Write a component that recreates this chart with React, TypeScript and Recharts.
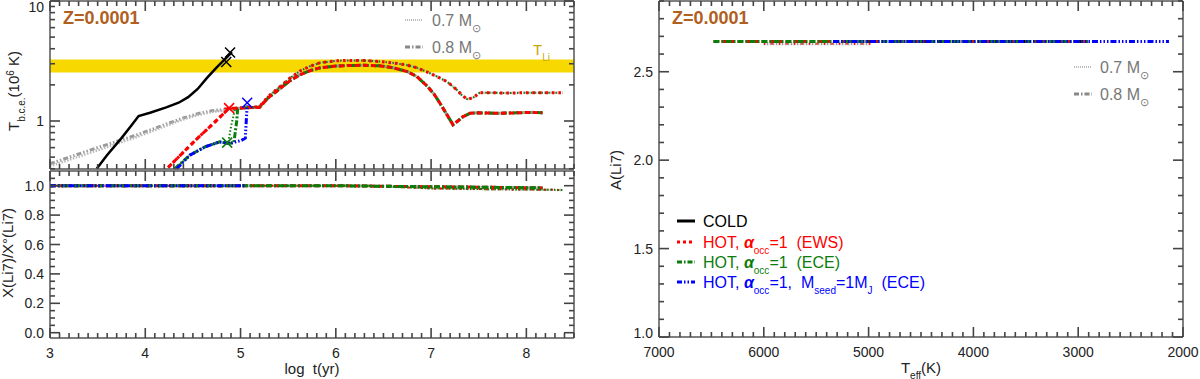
import { ComposedChart, Line, XAxis, YAxis, ReferenceArea } from 'recharts'

type Pt = [number, number]

const FONT = '"Liberation Sans", Arial, sans-serif'
const AXIS = '#555'
const TICK = '#444'
const TXT = '#222'
const RED = '#ff0000'
const GREEN = '#0a7d0a'
const BLUE = '#0000ff'
const GOLD = '#f7d800'

// ---- top-left: T at base of conv. envelope (10^6 K) vs log t
const coldTbce: Pt[] = [[3.49, 0.4], [3.6, 0.52], [3.75, 0.72], [3.85, 0.91], [3.93, 1.1], [4.05, 1.17], [4.22, 1.3], [4.35, 1.42], [4.45, 1.58], [4.55, 1.85], [4.65, 2.3], [4.75, 2.8], [4.85, 3.35], [4.91, 3.75]]
const greyEarly07: Pt[] = [[3.0, 0.42], [3.5, 0.57], [3.9, 0.73], [4.05, 0.81], [4.2, 0.9], [4.4, 1.03], [4.55, 1.12], [4.7, 1.19], [4.9, 1.24]]
const greyEarly08: Pt[] = [[3.0, 0.44], [3.5, 0.6], [3.9, 0.76], [4.05, 0.84], [4.2, 0.93], [4.4, 1.06], [4.55, 1.15], [4.7, 1.22], [4.9, 1.26]]
const redEarly: Pt[] = [[4.24, 0.41], [4.4, 0.55], [4.55, 0.72], [4.7, 0.93], [4.84, 1.19], [4.88, 1.28], [4.97, 1.28]]
const greenEarly07: Pt[] = [[4.31, 0.4], [4.47, 0.52], [4.63, 0.61], [4.78, 0.67], [4.87, 0.65], [4.9, 0.9], [4.94, 1.24], [4.98, 1.28]]
const greenEarly08: Pt[] = [[4.31, 0.4], [4.47, 0.52], [4.63, 0.61], [4.78, 0.67], [4.88, 0.65], [4.93, 0.66], [4.96, 1.0], [4.97, 1.27], [5.0, 1.28]]
const blueTbce: Pt[] = [[4.33, 0.4], [4.47, 0.52], [4.63, 0.61], [4.78, 0.67], [4.89, 0.65], [5.01, 0.69], [5.05, 0.72], [5.06, 1.0], [5.07, 1.36]]
const late07: Pt[] = [[5.06, 1.29], [5.2, 1.32], [5.29, 1.6], [5.41, 1.92], [5.52, 2.28], [5.62, 2.6], [5.73, 2.86], [5.83, 3.05], [6.0, 3.17], [6.12, 3.2], [6.3, 3.19], [6.46, 3.13], [6.6, 3.05], [6.75, 2.92], [6.85, 2.78], [6.96, 2.56], [7.06, 2.35], [7.17, 2.12], [7.27, 1.82], [7.33, 1.62], [7.38, 1.52], [7.44, 1.56], [7.51, 1.72], [7.6, 1.72], [7.8, 1.71], [8.0, 1.72], [8.2, 1.72], [8.38, 1.72]]
const late08: Pt[] = [[5.06, 1.29], [5.2, 1.3], [5.29, 1.56], [5.41, 1.85], [5.52, 2.17], [5.62, 2.42], [5.73, 2.63], [5.83, 2.77], [6.0, 2.87], [6.12, 2.9], [6.3, 2.91], [6.46, 2.88], [6.6, 2.78], [6.75, 2.58], [6.85, 2.35], [6.96, 1.95], [7.03, 1.68], [7.09, 1.42], [7.16, 1.15], [7.23, 0.93], [7.28, 1.0], [7.33, 1.08], [7.41, 1.16], [7.5, 1.17], [7.7, 1.16], [7.9, 1.17], [8.05, 1.18], [8.17, 1.17]]
const coldMarks: Pt[] = [[4.85, 3.1], [4.89, 3.72]]
const redMarks: Pt[] = [[4.88, 1.28]]
const greenMarks: Pt[] = [[4.86, 0.66]]
const blueMarks: Pt[] = [[5.07, 1.42]]
const tLiBand = [2.53, 3.26]

// ---- bottom-left: X(Li7)/X0(Li7)
const ratio07: Pt[] = [[3, 1], [6.3, 1], [6.7, 0.99], [7.0, 0.982], [7.5, 0.977], [8.0, 0.974], [8.38, 0.971]]
const ratio08: Pt[] = [[3, 1], [6.0, 1], [6.5, 0.996], [7.0, 0.993], [7.5, 0.99], [8.17, 0.985]]
const ratioCold: Pt[] = [[3, 1], [4.89, 1]]
const ratioBlue: Pt[] = [[3, 1], [5.06, 1]]

// ---- right: A(Li7) vs Teff
const aLiRed: Pt[] = [[6480, 2.671], [2906, 2.671]]
const aLiGreen: Pt[] = [[6480, 2.671], [2906, 2.671]]
const aLiCold: Pt[] = [[5000, 2.671], [2906, 2.671]]
const aLiBlue: Pt[] = [[5340, 2.671], [2134, 2.671]]
const aLiLow: Pt[] = [[6000, 2.658], [4970, 2.658]]

const steps = (a: number, b: number, s: number) => {
  const out: number[] = []
  for (let v = a; v <= b + 1e-9; v += s) out.push(Math.round(v * 1000) / 1000)
  return out
}
const tLogT = steps(3, 8.5, 0.1)
const tTbce = [0.4, 0.5, 0.6, 0.7, 0.8, 0.9, 1, 2, 3, 4, 5, 6, 7, 8, 9, 10]
const tRatio = steps(0, 1.05, 0.05)
const tTeff = steps(2000, 7000, 100)
const tALi = steps(1.0, 2.9, 0.1)

const rows = (pts: Pt[]) => pts.map(([x, y]) => ({ x, y }))
const isMult = (m: number) => (v: number) => Math.abs(v / m - Math.round(v / m)) < 1e-6

// custom tick: inward tick line (long for major) plus the label
type Side = 'bottom' | 'top' | 'left' | 'right'
function tickFor(side: Side, major: (v: number) => boolean, label?: (v: number) => string) {
  return (p: any) => {
    const v = Number(p.payload.value)
    const big = major(v)
    const len = big ? 10 : 5
    const x = Number(p.x)
    const y = Number(p.y)
    const dx = side === 'left' ? len : side === 'right' ? -len : 0
    const dy = side === 'bottom' ? -len : side === 'top' ? len : 0
    let txt = null
    if (label && big) {
      if (side === 'bottom')
        txt = <text x={x} y={y + 20} textAnchor="middle" fontSize={14} fill={TXT} fontFamily={FONT}>{label(v)}</text>
      else
        txt = <text x={x - 6} y={Math.min(Math.max(y + 5, 12), 338)} textAnchor="end" fontSize={14} fill={TXT} fontFamily={FONT}>{label(v)}</text>
    }
    return (
      <g key={`${side}-${v}`}>
        <path d={`M${x},${y}L${x + dx},${y + dy}`} stroke={TICK} strokeWidth={1.6} fill="none" />
        {txt}
      </g>
    )
  }
}

const line = (key: string, pts: Pt[], stroke: string, width: number, dash?: string) => (
  <Line key={key} data={rows(pts)} dataKey="y" type="linear" stroke={stroke} strokeWidth={width}
    strokeDasharray={dash} dot={false} activeDot={false} isAnimationActive={false} />
)

// invisible series bound to the mirrored (top / right) axes so that they get their ticks
const mirror = (pts: Pt[]) => (
  <Line key="mirror" xAxisId="t" yAxisId="r" data={rows(pts)} dataKey="y" stroke="none" dot={false}
    activeDot={false} isAnimationActive={false} />
)

const marks = (key: string, pts: Pt[], color: string, star = false) => (
  <Line key={key} data={rows(pts)} dataKey="y" stroke="none" isAnimationActive={false} activeDot={false}
    dot={(p: any) => {
      const s = 5
      const d = `M${p.cx - s},${p.cy - s}L${p.cx + s},${p.cy + s}M${p.cx - s},${p.cy + s}L${p.cx + s},${p.cy - s}` +
        (star ? `M${p.cx - s},${p.cy}L${p.cx + s},${p.cy}` : '')
      return <path key={`${key}-${p.index}`} d={d} stroke={color} strokeWidth={1.5} fill="none" />
    }} />
)

const DOT07 = '1.5 1.5'
const DASH08 = '5 2 1.5 2 1.5 2'
const RED07 = '2.5 4'
const RED08 = '5 3'
const GRN07 = '1.5 2'
const GRN08 = '6 2 2 2'
const BLU = '6 2 1.5 2 1.5 2 1.5 2'

const frame = { stroke: AXIS, strokeWidth: 1.5 }
const axisCommon = { tickSize: 0, tickMargin: 0, tickLine: false, axisLine: frame, interval: 0 as const }

function TopLeft() {
  const xb = tickFor('bottom', isMult(1))
  const xt = tickFor('top', isMult(1))
  const yl = tickFor('left', (v) => v === 1 || v === 10, (v) => String(v))
  const yr = tickFor('right', (v) => v === 1 || v === 10)
  return (
    <div style={{ position: 'absolute', left: 0, top: 0 }}>
      <ComposedChart width={600} height={171} margin={{ top: 0, right: 0, bottom: 0, left: 0 }}>
        <XAxis dataKey="x" type="number" domain={[3, 8.5]} ticks={tLogT} height={2} tick={xb} {...axisCommon} />
        <XAxis xAxisId="t" dataKey="x" orientation="top" type="number" domain={[3, 8.5]} ticks={tLogT} height={1} tick={xt} {...axisCommon} />
        <YAxis type="number" scale="log" domain={[0.398, 10]} ticks={tTbce} width={50} tick={yl} {...axisCommon} />
        <YAxis yAxisId="r" orientation="right" type="number" scale="log" domain={[0.398, 10]} ticks={tTbce} width={26} tick={yr} {...axisCommon} />
        <ReferenceArea y1={tLiBand[0]} y2={tLiBand[1]} fill={GOLD} fillOpacity={1} stroke="none" />
        {mirror(coldTbce)}
        {line('g08', [...greyEarly08, ...late08], '#9a9a9a', 3, DASH08)}
        {line('g07', [...greyEarly07, ...late07], '#b8b8b8', 2.5, DOT07)}
        {line('cold', coldTbce, '#000', 2.5)}
        {line('gr08', [...greenEarly08, ...late08], GREEN, 3, GRN08)}
        {line('gr07', [...greenEarly07, ...late07], GREEN, 2, GRN07)}
        {line('r08', [...redEarly, ...late08], RED, 3, RED08)}
        {line('r07', [...redEarly, ...late07], RED, 3, RED07)}
        {line('blue', blueTbce, BLUE, 3, BLU)}
        {marks('mc', coldMarks, '#000')}
        {marks('mr', redMarks, RED, true)}
        {marks('mg', greenMarks, GREEN)}
        {marks('mb', blueMarks, BLUE)}
      </ComposedChart>
    </div>
  )
}

function BottomLeft() {
  const xb = tickFor('bottom', isMult(1), (v) => String(v))
  const xt = tickFor('top', isMult(1))
  const yl = tickFor('left', isMult(0.2), (v) => v.toFixed(1))
  const yr = tickFor('right', isMult(0.2))
  return (
    <div style={{ position: 'absolute', left: 0, top: 170 }}>
      <ComposedChart width={600} height={209} margin={{ top: 0, right: 0, bottom: 0, left: 0 }}>
        <XAxis dataKey="x" type="number" domain={[3, 8.5]} ticks={tLogT} height={41} tick={xb} {...axisCommon} />
        <XAxis xAxisId="t" dataKey="x" orientation="top" type="number" domain={[3, 8.5]} ticks={tLogT} height={1} tick={xt} {...axisCommon} />
        <YAxis type="number" domain={[-0.036, 1.1]} ticks={tRatio} width={50} tick={yl} {...axisCommon} />
        <YAxis yAxisId="r" orientation="right" type="number" domain={[-0.036, 1.1]} ticks={tRatio} width={26} tick={yr} {...axisCommon} />
        {mirror(ratio07)}
        {line('g08', ratio08, '#9a9a9a', 3, DASH08)}
        {line('g07', ratio07, '#b8b8b8', 2.5, DOT07)}
        {line('cold', ratioCold, '#000', 3, '3 9')}
        {line('r07', ratio07, RED, 2, RED07)}
        {line('r08', ratio08, RED, 3, RED08)}
        {line('gr07', ratio07, GREEN, 2, GRN07)}
        {line('gr08', ratio08, GREEN, 3, GRN08)}
        {line('blue', ratioBlue, BLUE, 3, BLU)}
      </ComposedChart>
    </div>
  )
}

function Right() {
  const xb = tickFor('bottom', isMult(1000), (v) => String(v))
  const xt = tickFor('top', isMult(1000))
  const yl = tickFor('left', isMult(0.5), (v) => v.toFixed(1))
  const yr = tickFor('right', isMult(0.5))
  return (
    <div style={{ position: 'absolute', left: 600, top: 0 }}>
      <ComposedChart width={600} height={379} margin={{ top: 0, right: 0, bottom: 0, left: 0 }}>
        <XAxis dataKey="x" type="number" reversed domain={[2000, 7000]} ticks={tTeff} height={42} tick={xb} {...axisCommon} />
        <XAxis xAxisId="t" dataKey="x" orientation="top" type="number" reversed domain={[2000, 7000]} ticks={tTeff} height={1} tick={xt} {...axisCommon} />
        <YAxis type="number" domain={[1.0, 2.9]} ticks={tALi} width={59} tick={yl} {...axisCommon} />
        <YAxis yAxisId="r" orientation="right" type="number" domain={[1.0, 2.9]} ticks={tALi} width={17} tick={yr} {...axisCommon} />
        {mirror(aLiBlue)}
        {line('low', aLiLow, '#9a9a9a', 3, DOT07)}
        {line('lowr', aLiLow, RED, 2, '1.5 6')}
        {line('r', aLiRed, RED, 3, RED08)}
        {line('c', aLiCold, '#000', 3, '3 11')}
        {line('g', aLiGreen, GREEN, 3, GRN08)}
        {line('b', aLiBlue, BLUE, 3, BLU)}
      </ComposedChart>
    </div>
  )
}

function Overlay() {
  const sub = { baselineShift: 'sub' } as const
  const sup = { baselineShift: 'super' } as const
  const legend = [
    { y: 221, color: '#000', dash: undefined as string | undefined },
    { y: 242, color: RED, dash: '3 3' },
    { y: 262, color: GREEN, dash: '5 2 1.5 2' },
    { y: 282, color: BLUE, dash: '5 2 1.5 2 1.5 2' },
  ]
  const alpha = (
    <>
      <tspan fontStyle="italic" fontWeight="bold">α</tspan>
      <tspan fontSize={10} style={sub}>occ</tspan>
    </>
  )
  return (
    <svg width={1200} height={379} style={{ position: 'absolute', left: 0, top: 0, pointerEvents: 'none' }}
      fontFamily={FONT}>
      <text x={312} y={374} textAnchor="middle" fontSize={15} fill={TXT} style={{ whiteSpace: 'pre' }}>log  t(yr)</text>
      <text x={921} y={373} textAnchor="middle" fontSize={15} fill={TXT}>
        T<tspan fontSize={10} style={sub}>eff</tspan><tspan>(K)</tspan>
      </text>
      <text transform="translate(19,91) rotate(-90)" textAnchor="middle" fontSize={15} fill={TXT}>
        T<tspan fontSize={10} style={sub}>b.c.e.</tspan><tspan>(10</tspan><tspan fontSize={10} style={sup}>6</tspan><tspan> K)</tspan>
      </text>
      <text transform="translate(13,253) rotate(-90)" textAnchor="middle" fontSize={15} fill={TXT}>X(Li7)/X°(Li7)</text>
      <text transform="translate(621,170) rotate(-90)" textAnchor="middle" fontSize={15} fill={TXT}>A(Li7)</text>

      <text x={63} y={24} fontSize={18} fontWeight="bold" fill="#b0601e">Z=0.0001</text>
      <text x={672} y={24} fontSize={18} fontWeight="bold" fill="#b0601e">Z=0.0001</text>

      <text x={533} y={55} fontSize={15} fill="#c9a800">T<tspan fontSize={10} style={sub}>Li</tspan></text>

      {[{ x: 405, t: 432, y: 20 }, { x: 1074, t: 1100, y: 67 }].map((g) => (
        <g key={g.x}>
          <line x1={g.x} x2={g.x + 18} y1={g.y} y2={g.y} stroke="#bbb" strokeWidth={2} strokeDasharray="1 1" />
          <text x={g.t} y={g.y + 6} fontSize={16} fill="#777">0.7 M<tspan fontSize={11} style={sub}>⊙</tspan></text>
          <line x1={g.x} x2={g.x + 18} y1={g.y + 27} y2={g.y + 27} stroke="#888" strokeWidth={3} strokeDasharray="5 2 1.5 2" />
          <text x={g.t} y={g.y + 33} fontSize={16} fill="#777">0.8 M<tspan fontSize={11} style={sub}>⊙</tspan></text>
        </g>
      ))}

      {legend.map((l) => (
        <line key={l.y} x1={677} x2={695} y1={l.y} y2={l.y} stroke={l.color} strokeWidth={3} strokeDasharray={l.dash} />
      ))}
      <text x={703} y={227} fontSize={16} fill="#000">COLD</text>
      <text x={703} y={248} fontSize={16} fill={RED} style={{ whiteSpace: 'pre' }}>
        HOT, {alpha}<tspan>=1  (EWS)</tspan>
      </text>
      <text x={703} y={268} fontSize={16} fill={GREEN} style={{ whiteSpace: 'pre' }}>
        HOT, {alpha}<tspan>=1  (ECE)</tspan>
      </text>
      <text x={703} y={288} fontSize={16} fill={BLUE} style={{ whiteSpace: 'pre' }}>
        HOT, {alpha}<tspan>=1,  M</tspan><tspan fontSize={10} style={sub}>seed</tspan><tspan>=1M</tspan>
        <tspan fontSize={10} style={sub}>J</tspan><tspan>  (ECE)</tspan>
      </text>
    </svg>
  )
}

export default function App() {
  return (
    <div style={{ position: 'absolute', left: 0, top: 0, width: 1200, height: 379, background: '#fff' }}>
      <TopLeft />
      <BottomLeft />
      <Right />
      <Overlay />
    </div>
  )
}
